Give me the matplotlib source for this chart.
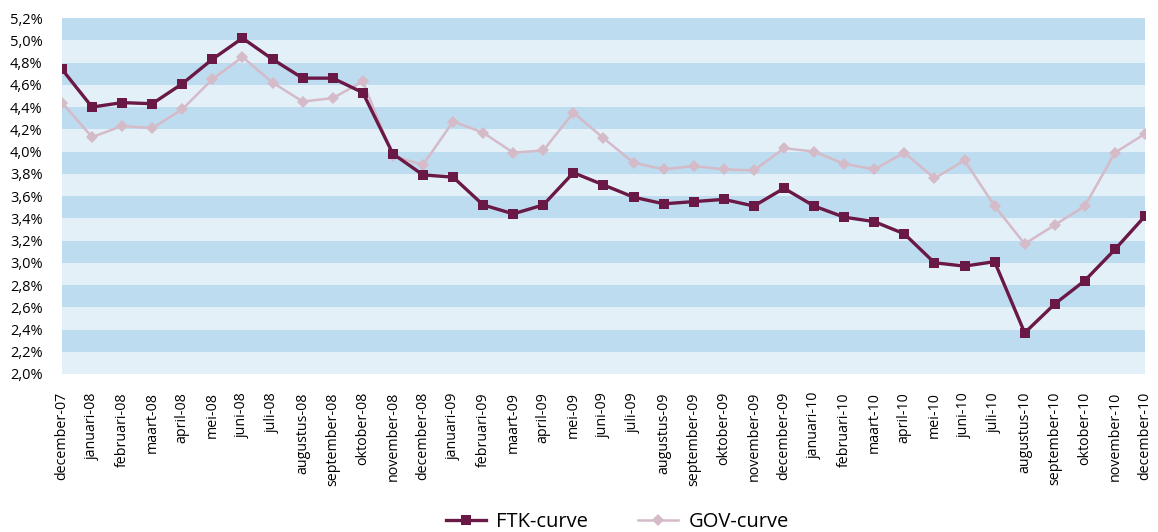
import matplotlib
matplotlib.use("Agg")
import matplotlib.pyplot as plt
from matplotlib.ticker import FuncFormatter, MultipleLocator

months = ["december-07", "januari-08", "februari-08", "maart-08", "april-08", "mei-08",
          "juni-08", "juli-08", "augustus-08", "september-08", "oktober-08", "november-08",
          "december-08", "januari-09", "februari-09", "maart-09", "april-09", "mei-09",
          "juni-09", "juli-09", "augustus-09", "september-09", "oktober-09", "november-09",
          "december-09", "januari-10", "februari-10", "maart-10", "april-10", "mei-10",
          "juni-10", "juli-10", "augustus-10", "september-10", "oktober-10", "november-10",
          "december-10"]

ftk = [4.74, 4.40, 4.44, 4.43, 4.61, 4.83, 5.02, 4.83, 4.66, 4.66, 4.53, 3.98,
       3.79, 3.77, 3.52, 3.44, 3.52, 3.81, 3.70, 3.59, 3.53, 3.55, 3.57, 3.51,
       3.67, 3.51, 3.41, 3.37, 3.26, 3.00, 2.97, 3.01, 2.37, 2.63, 2.84, 3.12, 3.42]

gov = [4.44, 4.13, 4.23, 4.21, 4.38, 4.65, 4.85, 4.62, 4.45, 4.48, 4.63, 3.96,
       3.88, 4.27, 4.17, 3.99, 4.01, 4.35, 4.12, 3.90, 3.84, 3.87, 3.84, 3.83,
       4.03, 4.00, 3.89, 3.84, 3.99, 3.76, 3.92, 3.51, 3.17, 3.34, 3.51, 3.99, 4.16]

plt.rcParams['font.family'] = ['Open Sans', 'DejaVu Sans']

fig = plt.figure(figsize=(11.58, 5.32), dpi=100)
ax = fig.add_axes([0.0535, 0.297, 0.9353, 0.669])

ymin, ymax = 2.0, 5.2
dark = "#bddcef"
light = "#e3f0f8"
ax.set_facecolor(light)
y = 2.2
while y < ymax - 1e-9:
    ax.axhspan(y, y + 0.2, color=dark, lw=0, zorder=0)
    y += 0.4

x = list(range(len(months)))
ax.plot(x, gov, color="#d5bac8", lw=1.8, marker="D", markersize=6.5,
        markeredgewidth=0, label="GOV-curve", zorder=2)
ax.plot(x, ftk, color="#6a1846", lw=2.4, marker="s", markersize=7.5,
        markeredgewidth=0, label="FTK-curve", zorder=3)

ax.set_xlim(0, len(months) - 1)
ax.set_ylim(ymin, ymax)
ax.yaxis.set_major_locator(MultipleLocator(0.2))
ax.yaxis.set_major_formatter(FuncFormatter(lambda v, p: f"{v:.1f}%".replace(".", ",")))
ax.set_xticks(x)
ax.set_xticklabels(months, rotation=90, fontsize=10.3)
ax.tick_params(axis="y", labelsize=10.5, length=0, pad=14)
ax.tick_params(axis="x", length=0, pad=13)
for s in ax.spines.values():
    s.set_visible(False)

h, l = ax.get_legend_handles_labels()
leg = fig.legend([h[1], h[0]], [l[1], l[0]], loc="lower center", ncol=2,
                 bbox_to_anchor=(0.533, -0.035), frameon=False, fontsize=14.5,
                 handlelength=2.0, handletextpad=0.5, columnspacing=2.5)

fig.savefig("out.png", dpi=100)
